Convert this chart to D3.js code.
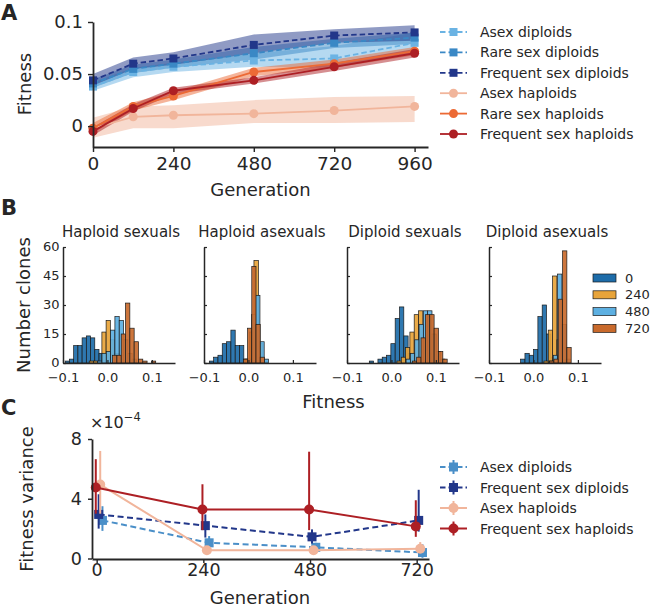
<!DOCTYPE html>
<html><head><meta charset="utf-8">
<script src="https://cdn.jsdelivr.net/npm/d3@7"></script>
<style>
body{margin:0;background:#fff}
text{font-family:"DejaVu Sans",sans-serif;fill:#262626}
</style>
</head><body><svg id="c" width="652" height="609"></svg>
<script>
// ================= DATA =================
// Panel A: mean fitness trajectories
const generationsA = [0, 120, 240, 480, 720, 960];
const tickGenerationsA = [0, 240, 480, 720, 960];
const fitnessTicksA = [0, 0.05, 0.1];
const seriesNamesA = ["Asex diploids","Rare sex diploids","Frequent sex diploids","Asex haploids","Rare sex haploids","Frequent sex haploids"];
const asexDiploidsMean = [0.038, 0.052, 0.057, 0.063, 0.065, 0.080];
const asexDiploidsLow  = [0.034, 0.047, 0.052, 0.057, 0.056, 0.071];
const asexDiploidsHigh = [0.042, 0.056, 0.061, 0.070, 0.077, 0.090];
const rareSexDiploidsMean = [0.041, 0.055, 0.060, 0.070, 0.080, 0.085];
const rareSexDiploidsLow  = [0.037, 0.051, 0.056, 0.064, 0.075, 0.079];
const rareSexDiploidsHigh = [0.045, 0.059, 0.064, 0.076, 0.084, 0.090];
const freqSexDiploidsMean = [0.044, 0.060, 0.065, 0.078, 0.087, 0.090];
const freqSexDiploidsLow  = [0.039, 0.055, 0.059, 0.070, 0.080, 0.082];
const freqSexDiploidsHigh = [0.050, 0.066, 0.071, 0.088, 0.093, 0.097];
const asexHaploidsMean = [-0.002, 0.009, 0.0105, 0.012, 0.015, 0.019];
const asexHaploidsLow  = [-0.011, -0.002, -0.002, 0.003, 0.003, 0.004];
const asexHaploidsHigh = [0.008, 0.019, 0.020, 0.025, 0.028, 0.029];
const rareSexHaploidsMean = [-0.002, 0.019, 0.029, 0.052, 0.060, 0.072];
const rareSexHaploidsLow  = [-0.006, 0.015, 0.025, 0.048, 0.056, 0.068];
const rareSexHaploidsHigh = [0.003, 0.023, 0.033, 0.056, 0.064, 0.076];
const freqSexHaploidsMean = [-0.005, 0.017, 0.034, 0.044, 0.057, 0.070];
const freqSexHaploidsLow  = [-0.009, 0.014, 0.031, 0.041, 0.053, 0.066];
const freqSexHaploidsHigh = [-0.001, 0.021, 0.037, 0.047, 0.061, 0.074];

// Panel B: fitness histograms (bin start, bin width, counts) per generation 0,240,480,720
const histTitles = ["Haploid sexuals","Haploid asexuals","Diploid sexuals","Diploid asexuals"];
const histGenerations = ["0","240","480","720"];
const histCountTicks = [0, 15, 30, 45, 60];
const histFitnessTicks = [-0.1, 0.0, 0.1];
const haploidSexualsStarts = [-0.095, -0.041, -0.022, 0.0116];
const haploidSexualsWidths = [0.0095, 0.0095, 0.0097, 0.0097];
const haploidSexualsCounts = [
  [1, 2, 9, 9, 13, 14, 13, 7, 5, 1],
  [1, 1, 0, 16, 22, 12, 5, 2, 1],
  [1, 5, 6, 17, 24, 22, 12, 5, 2],
  [4, 4, 15, 31, 18, 11, 2, 1, 0, 1]];
const haploidAsexualsStarts = [-0.088, -0.0076, -0.0026, -0.0115];
const haploidAsexualsWidths = [0.0097, 0.010, 0.0095, 0.0095];
const haploidAsexualsCounts = [
  [1, 3, 4, 10, 11, 17, 9, 9, 2, 1],
  [2, 16, 53, 10, 1],
  [2, 25, 35, 11, 2],
  [2, 18, 50, 20, 3]];
const diploidSexualsStarts = [-0.0498, 0.0124, 0.033, 0.047];
const diploidSexualsWidths = [0.0097, 0.0097, 0.0097, 0.0098];
const diploidSexualsCounts = [
  [1, 0, 2, 3, 4, 10, 23, 29, 14, 5, 2, 1],
  [1, 3, 8, 16, 25, 27, 12, 5, 2],
  [2, 5, 12, 20, 27, 27, 15, 6, 2],
  [1, 3, 13, 25, 25, 18, 6, 2]];
const diploidAsexualsStarts = [-0.0288, 0.0236, 0.0349, 0.0364];
const diploidAsexualsWidths = [0.0097, 0.0097, 0.0097, 0.0097];
const diploidAsexualsCounts = [
  [2, 5, 4, 7, 24, 30, 15, 3, 1],
  [1, 17, 45, 12, 2],
  [1, 4, 46, 20, 2],
  [1, 2, 33, 58, 8]];

// Panel C: fitness variance (x1e-4)
const generationsC = [0, 240, 480, 720];
const varianceTicks = [0, 4, 8];
const seriesNamesC = ["Asex diploids","Frequent sex diploids","Asex haploids","Frequent sex haploids"];
const asexDiploidsVar     = [2.55, 1.05, 0.75, 0.40];
const asexDiploidsVarLow  = [1.85, 0.60, 0.45, 0.05];
const asexDiploidsVarHigh = [3.50, 1.50, 1.05, 0.95];
const freqSexDiploidsVar     = [2.95, 2.20, 1.45, 2.55];
const freqSexDiploidsVarLow  = [2.00, 1.40, 1.00, 1.80];
const freqSexDiploidsVarHigh = [4.30, 2.95, 1.95, 4.60];
const asexHaploidsVar     = [4.95, 0.55, 0.55, 0.65];
const asexHaploidsVarLow  = [3.00, 0.40, 0.40, 0.40];
const asexHaploidsVarHigh = [7.20, 0.70, 0.70, 1.10];
const freqSexHaploidsVar     = [4.75, 3.28, 3.28, 2.15];
const freqSexHaploidsVarLow  = [3.00, 1.90, 1.90, 1.45];
const freqSexHaploidsVarHigh = [6.65, 4.97, 7.15, 3.90];

// ================= STYLE / LAYOUT =================
const ink = "#262626";
const FONT = '"DejaVu Sans", sans-serif';
const col = {
  asexDip: "#6bb3e3", rareDip: "#3a88c5", freqDip: "#22378a",
  asexHap: "#f1b59b", rareHap: "#ec6a35", freqHap: "#ad1f24"
};
const histColors = ["#1d6ca9", "#e8a43a", "#5db0e2", "#c96a2c"];

const svg = d3.select("#c");

function styleAxis(g, fs, sw) {
  g.select(".domain").attr("stroke", ink).attr("stroke-width", sw);
  g.selectAll(".tick line").attr("stroke", ink).attr("stroke-width", sw * 0.8);
  g.selectAll(".tick text").attr("fill", ink)
    .style("font-size", fs + "px").style("font-family", FONT);
}
function panelLetter(t, y) {
  svg.append("text").attr("x", 1).attr("y", y).text(t)
    .style("font-size", "21px").style("font-weight", "bold");
}

// ================= PANEL A =================
panelLetter("A", 20);
const xA = d3.scaleLinear().domain([0, 1000]).range([93, 428]);
const yA = d3.scaleLinear().domain([-0.02, 0.1]).range([147, 22]);

const seriesA = [
  {name: seriesNamesA[0], m: asexDiploidsMean, lo: asexDiploidsLow, hi: asexDiploidsHigh, c: col.asexDip, dip: true},
  {name: seriesNamesA[1], m: rareSexDiploidsMean, lo: rareSexDiploidsLow, hi: rareSexDiploidsHigh, c: col.rareDip, dip: true},
  {name: seriesNamesA[2], m: freqSexDiploidsMean, lo: freqSexDiploidsLow, hi: freqSexDiploidsHigh, c: col.freqDip, dip: true},
  {name: seriesNamesA[3], m: asexHaploidsMean, lo: asexHaploidsLow, hi: asexHaploidsHigh, c: col.asexHap, dip: false},
  {name: seriesNamesA[4], m: rareSexHaploidsMean, lo: rareSexHaploidsLow, hi: rareSexHaploidsHigh, c: col.rareHap, dip: false},
  {name: seriesNamesA[5], m: freqSexHaploidsMean, lo: freqSexHaploidsLow, hi: freqSexHaploidsHigh, c: col.freqHap, dip: false}
];
const gA = svg.append("g");
const areaA = s => d3.area().x((d, i) => xA(generationsA[i])).y0((d, i) => yA(s.lo[i])).y1((d, i) => yA(s.hi[i]))(s.m);
const lineA = s => d3.line().x((d, i) => xA(generationsA[i])).y(d => yA(d))(s.m);
seriesA.forEach(s => {
  gA.append("path").attr("d", areaA(s)).attr("fill", s.c).attr("opacity", 0.5);
});
seriesA.forEach(s => {
  gA.append("path").attr("d", lineA(s)).attr("fill", "none").attr("stroke", s.c)
    .attr("stroke-width", 1.8).attr("stroke-dasharray", s.dip ? "5.5,3" : null);
  s.m.forEach((v, i) => {
    if (s.dip) gA.append("rect").attr("x", xA(generationsA[i]) - 4).attr("y", yA(v) - 4)
      .attr("width", 8).attr("height", 8).attr("fill", s.c);
    else gA.append("circle").attr("cx", xA(generationsA[i])).attr("cy", yA(v)).attr("r", 4.5).attr("fill", s.c);
  });
});
const axAx = svg.append("g").attr("transform", "translate(0,147)")
  .call(d3.axisBottom(xA).tickValues(tickGenerationsA).tickSize(5).tickPadding(5).tickSizeOuter(0).tickFormat(d3.format("d")));
styleAxis(axAx, 18.5, 1.8);
const axAy = svg.append("g").attr("transform", "translate(93,0)")
  .call(d3.axisLeft(yA).tickValues(fitnessTicksA).tickSize(5).tickPadding(5).tickSizeOuter(0).tickFormat(d => d === 0 ? "0" : String(d)));
styleAxis(axAy, 18, 1.8);
svg.append("text").attr("transform", "translate(31,84) rotate(-90)").attr("text-anchor", "middle")
  .style("font-size", "18px").text("Fitness");
svg.append("text").attr("x", 260.5).attr("y", 196).attr("text-anchor", "middle")
  .style("font-size", "18px").text("Generation");
// legend A
const legA = svg.append("g");
seriesA.forEach((s, i) => {
  const y = 32 + i * 20.4;
  legA.append("line").attr("x1", 440).attr("x2", 467).attr("y1", y).attr("y2", y)
    .attr("stroke", s.c).attr("stroke-width", 1.8).attr("stroke-dasharray", s.dip ? "5.5,3" : null);
  if (s.dip) legA.append("rect").attr("x", 449.5).attr("y", y - 4).attr("width", 8).attr("height", 8).attr("fill", s.c);
  else legA.append("circle").attr("cx", 453.5).attr("cy", y).attr("r", 4.5).attr("fill", s.c);
  legA.append("text").attr("x", 480).attr("y", y).attr("dy", "0.36em").style("font-size", "14px").text(s.name);
});

// ================= PANEL B =================
panelLetter("B", 215);
const histData = [
  {starts: haploidSexualsStarts, widths: haploidSexualsWidths, counts: haploidSexualsCounts},
  {starts: haploidAsexualsStarts, widths: haploidAsexualsWidths, counts: haploidAsexualsCounts},
  {starts: diploidSexualsStarts, widths: diploidSexualsWidths, counts: diploidSexualsCounts},
  {starts: diploidAsexualsStarts, widths: diploidAsexualsWidths, counts: diploidAsexualsCounts}
];
const histLefts = [63, 204, 347, 489];
const histW = 112;
const yB = d3.scaleLinear().domain([0, 60]).range([363, 247]);
histData.forEach((h, p) => {
  const left = histLefts[p];
  const xB = d3.scaleLinear().domain([-0.1, 0.152]).range([left, left + histW]);
  const g = svg.append("g");
  h.counts.forEach((cs, gi) => {
    g.selectAll(null).data(cs).enter().append("rect")
      .attr("x", (d, i) => xB(h.starts[gi] + i * h.widths[gi]))
      .attr("width", xB(h.widths[gi]) - xB(0))
      .attr("y", d => yB(d))
      .attr("height", d => yB(0) - yB(d))
      .attr("fill", histColors[gi]).attr("fill-opacity", 0.92)
      .attr("stroke", d => d > 0 ? "#1a1a1a" : "none").attr("stroke-width", 0.7);
  });
  const ax = svg.append("g").attr("transform", "translate(0,363)")
    .call(d3.axisBottom(xB).tickValues(histFitnessTicks).tickSize(-3).tickPadding(10).tickSizeOuter(0).tickFormat(d3.format(".1f")));
  styleAxis(ax, 13, 1.5);
  const ay = svg.append("g").attr("transform", `translate(${left},0)`)
    .call(d3.axisLeft(yB).tickValues(histCountTicks).tickSize(-3).tickPadding(3.5).tickSizeOuter(0)
      .tickFormat(p === 0 ? d3.format("d") : () => ""));
  styleAxis(ay, 13, 1.5);
  ay.selectAll(".tick text").attr("dy", "0.28em");
  svg.append("text").attr("x", left + histW / 2 + 2).attr("y", 237).attr("text-anchor", "middle")
    .style("font-size", "15px").text(histTitles[p]);
});
svg.append("text").attr("transform", "translate(29.5,305) rotate(-90)").attr("text-anchor", "middle")
  .style("font-size", "18px").text("Number clones");
svg.append("text").attr("x", 333.5).attr("y", 408).attr("text-anchor", "middle")
  .style("font-size", "18px").text("Fitness");
histGenerations.forEach((gname, i) => {
  const y = 278 + i * 16.8;
  svg.append("rect").attr("x", 593).attr("y", y - 4).attr("width", 23).attr("height", 8)
    .attr("fill", histColors[i]).attr("stroke", "#1a1a1a").attr("stroke-width", 0.7);
  svg.append("text").attr("x", 625).attr("y", y).attr("dy", "0.36em").style("font-size", "13px").text(gname);
});

// ================= PANEL C =================
panelLetter("C", 415);
const xC = d3.scaleLinear().domain([-10.5, 747.7]).range([92, 429]);
const yC = d3.scaleLinear().domain([0, 8]).range([558.5, 439]);
const seriesC = [
  {name: seriesNamesC[0], m: asexDiploidsVar, lo: asexDiploidsVarLow, hi: asexDiploidsVarHigh, c: "#4a8fc8", dip: true, off: 13},
  {name: seriesNamesC[1], m: freqSexDiploidsVar, lo: freqSexDiploidsVarLow, hi: freqSexDiploidsVarHigh, c: col.freqDip, dip: true, off: 4.5},
  {name: seriesNamesC[2], m: asexHaploidsVar, lo: asexHaploidsVarLow, hi: asexHaploidsVarHigh, c: col.asexHap, dip: false, off: 8},
  {name: seriesNamesC[3], m: freqSexHaploidsVar, lo: freqSexHaploidsVarLow, hi: freqSexHaploidsVarHigh, c: col.freqHap, dip: false, off: -2}
];
const gC = svg.append("g");
seriesC.forEach(s => {
  const xs = generationsC.map(g => xC(g + s.off));
  gC.append("path").attr("d", d3.line().x((d, i) => xs[i]).y(d => yC(d))(s.m))
    .attr("fill", "none").attr("stroke", s.c).attr("stroke-width", 2)
    .attr("stroke-dasharray", s.dip ? "6,3.5" : null);
  s.m.forEach((v, i) => {
    gC.append("line").attr("x1", xs[i]).attr("x2", xs[i]).attr("y1", yC(s.lo[i])).attr("y2", yC(s.hi[i]))
      .attr("stroke", s.c).attr("stroke-width", 2);
    if (s.dip) gC.append("rect").attr("x", xs[i] - 4.5).attr("y", yC(v) - 4.5).attr("width", 9).attr("height", 9).attr("fill", s.c);
    else gC.append("circle").attr("cx", xs[i]).attr("cy", yC(v)).attr("r", 5).attr("fill", s.c);
  });
});
const axCx = svg.append("g").attr("transform", "translate(0,559)")
  .call(d3.axisBottom(xC).tickValues(generationsC).tickSize(4).tickPadding(0.5).tickSizeOuter(0).tickFormat(d3.format("d")));
styleAxis(axCx, 17.5, 1.8);
const axCy = svg.append("g").attr("transform", "translate(92,0)")
  .call(d3.axisLeft(yC).tickValues(varianceTicks).tickSize(4).tickPadding(6).tickSizeOuter(0).tickFormat(d3.format("d")));
styleAxis(axCy, 17.5, 1.8);
const mult = svg.append("text").attr("x", 90).attr("y", 428).style("font-size", "16px");
mult.append("tspan").text("×10");
mult.append("tspan").attr("dy", -7).style("font-size", "11.5px").text("−4");
svg.append("text").attr("transform", "translate(33,499) rotate(-90)").attr("text-anchor", "middle")
  .style("font-size", "18px").text("Fitness variance");
svg.append("text").attr("x", 260).attr("y", 604).attr("text-anchor", "middle")
  .style("font-size", "18px").text("Generation");
// legend C
seriesC.forEach((s, i) => {
  const y = 467 + i * 20.5;
  svg.append("line").attr("x1", 440).attr("x2", 467).attr("y1", y).attr("y2", y)
    .attr("stroke", s.c).attr("stroke-width", 2).attr("stroke-dasharray", s.dip ? "5.5,3" : null);
  svg.append("line").attr("x1", 453.5).attr("x2", 453.5).attr("y1", y - 7).attr("y2", y + 7)
    .attr("stroke", s.c).attr("stroke-width", 2);
  if (s.dip) svg.append("rect").attr("x", 449).attr("y", y - 4.5).attr("width", 9).attr("height", 9).attr("fill", s.c);
  else svg.append("circle").attr("cx", 453.5).attr("cy", y).attr("r", 5).attr("fill", s.c);
  svg.append("text").attr("x", 480).attr("y", y).attr("dy", "0.36em").style("font-size", "14px").text(s.name);
});
</script>
</body></html>
